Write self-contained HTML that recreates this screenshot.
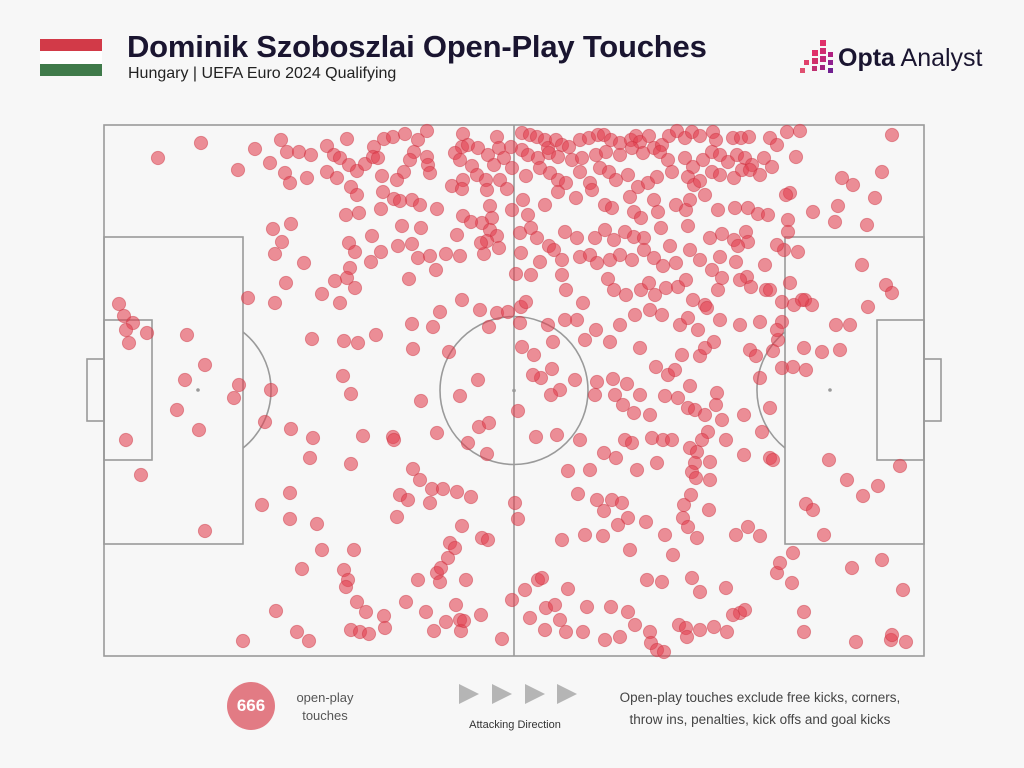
<!DOCTYPE html>
<html><head><meta charset="utf-8">
<style>
body{margin:0;background:#f7f7f7;font-family:"Liberation Sans",sans-serif;}
#wrap{position:relative;width:1024px;height:768px;overflow:hidden;background:#f7f7f7;}
.t{position:absolute;white-space:nowrap;}
</style></head><body>
<div id="wrap">
<div style="position:absolute;left:40px;top:39px;width:62px;height:37px;">
 <div style="height:12px;background:#d23a48"></div><div style="height:13px;background:#fff"></div><div style="height:12px;background:#3f7a4a"></div>
</div>
<div class="t" style="left:127px;top:29px;font-size:31px;font-weight:bold;color:#1a1530;letter-spacing:-0.2px;">Dominik Szoboszlai Open-Play Touches</div>
<div class="t" style="left:128px;top:65px;font-size:16px;color:#222;">Hungary | UEFA Euro 2024 Qualifying</div>
<svg style="position:absolute;left:798px;top:40px" width="38" height="36">
 <rect x="22" y="0" width="6" height="6" fill="#e0306a"/><rect x="22" y="8" width="6" height="6" fill="#d02c70"/><rect x="14" y="10" width="6" height="6" fill="#e0306a"/>
 <rect x="30" y="12" width="5" height="5" fill="#b02080"/><rect x="22" y="16" width="6" height="6" fill="#c02878"/><rect x="14" y="18" width="6" height="6" fill="#d0306a"/>
 <rect x="6" y="20" width="5" height="5" fill="#e0406a"/><rect x="30" y="20" width="5" height="5" fill="#902090"/><rect x="22" y="25" width="5" height="5" fill="#a02080"/>
 <rect x="14" y="26" width="5" height="5" fill="#c03070"/><rect x="2" y="28" width="5" height="5" fill="#e05070"/><rect x="30" y="28" width="5" height="5" fill="#702090"/>
</svg>
<div class="t" style="left:838px;top:44px;font-size:25px;color:#1a1530;"><b>Opta</b> Analyst</div>

<svg id="pitch" style="position:absolute;left:0;top:0" width="1024" height="768"></svg>

<div style="position:absolute;left:227px;top:682px;width:48px;height:48px;border-radius:50%;background:#e27b84;color:#fff;font-weight:bold;font-size:17px;line-height:48px;text-align:center;">666</div>
<div class="t" style="left:285px;top:689px;width:80px;text-align:center;font-size:13px;color:#555;line-height:18px;">open-play<br>touches</div>
<svg style="position:absolute;left:455px;top:682px" width="125" height="24">
 <polygon points="4,2 24,12 4,22" fill="#b5b5b5"/><polygon points="37,2 57,12 37,22" fill="#b5b5b5"/><polygon points="70,2 90,12 70,22" fill="#b5b5b5"/><polygon points="102,2 122,12 102,22" fill="#b5b5b5"/>
</svg>
<div class="t" style="left:445px;top:719px;width:140px;text-align:center;font-size:11px;color:#333;">Attacking Direction</div>
<div class="t" style="left:590px;top:687px;width:340px;text-align:center;font-size:13.5px;color:#444;line-height:22px;">Open-play touches exclude free kicks, corners,<br>throw ins, penalties, kick offs and goal kicks</div>
</div>
<script>
const pitchLength = 82, pitchWidth = 53.1;
const touches = [
[5.4,3.3],[9.7,1.8],[13.4,4.5],[15.1,2.4],[16.6,3.8],[17.7,1.5],[18.3,2.7],[19.5,2.7],[20.7,3.0],[18.1,4.8],[18.6,5.8],[20.3,5.3],[22.3,2.1],[23.0,3.0],[22.3,4.7],[16.9,10.4],[18.7,9.9],[17.8,11.7],[17.1,12.9],[20.0,13.8],[18.2,15.8],[14.4,17.3],[17.1,17.8],[21.8,16.9],[1.5,17.9],[2.0,19.1],[2.9,19.8],[2.2,20.5],[4.3,20.8],[2.5,21.8],[8.3,21.0],[10.1,24.0],[8.1,25.5],[13.5,26.0],[13.0,27.3],[7.3,28.5],[16.7,26.5],[16.1,29.7],[9.5,30.5],[2.2,31.5],[18.7,30.4],[20.9,31.3],[20.6,33.3],[3.7,35.0],[18.6,36.8],[15.8,38.0],[18.6,39.4],[10.1,40.6],[21.3,39.9],[21.8,42.5],[19.8,44.4],[17.2,48.6],[13.9,51.6],[19.3,50.7],[20.5,51.6],
[24.3,1.4],[23.6,3.3],[24.5,4.0],[25.3,4.6],[26.1,3.9],[27.0,2.2],[26.9,3.2],[28.0,1.4],[28.9,1.2],[30.1,0.9],[31.4,1.5],[32.3,0.6],[31.0,2.7],[30.6,3.5],[32.3,3.2],[32.4,4.0],[32.6,4.8],[30.0,4.7],[29.3,5.5],[27.4,3.3],[27.8,5.1],[23.3,5.3],[24.7,6.2],[25.3,7.0],[27.9,6.7],[29.0,7.4],[30.8,7.5],[31.6,8.0],[33.3,8.4],[34.8,6.1],[35.9,5.5],[35.8,6.4],[35.9,0.9],[35.8,2.2],[36.4,2.0],[35.1,2.8],[37.4,2.3],[38.4,3.0],[36.8,4.1],[35.6,3.5],[37.3,5.0],[39.3,1.2],[39.5,2.3],[40.0,3.3],[40.7,2.2],[39.0,4.0],[38.2,5.5],[39.6,5.5],[40.3,6.4],[38.6,8.1],[38.8,9.3],[37.8,9.8],[38.6,10.5],[39.3,11.1],[38.3,11.6],[38.0,12.9],[39.5,12.3],[35.9,9.1],[36.7,9.7],[35.3,11.0],[37.7,11.8],[38.3,6.5],[40.8,4.3],
[24.2,9.0],[25.5,8.8],[26.8,11.1],[27.7,8.4],[29.6,7.6],[29.8,10.1],[29.4,12.1],[30.8,11.9],[31.7,10.3],[27.7,12.7],[26.7,13.7],[24.5,11.8],[25.1,12.7],[24.6,14.3],[24.3,15.3],[25.1,16.3],[23.1,15.6],[23.6,17.8],[20.8,21.4],[24.0,21.6],[25.4,21.8],[27.2,21.0],[30.5,15.4],[31.4,13.3],[32.6,13.1],[33.2,14.5],[34.2,12.9],[35.6,13.1],[33.6,18.7],[35.8,17.5],[30.8,19.9],[32.9,20.2],[30.9,22.4],[37.6,18.5],[39.3,18.8],[38.5,20.2],[34.5,22.7],[37.4,25.5],[31.7,27.6],[35.6,27.1],[37.5,30.2],[38.5,29.8],[33.3,30.8],[36.4,31.8],[38.3,32.9],[23.9,25.1],[24.7,26.9],[25.9,31.1],[28.9,31.2],[29.0,31.5],[24.7,33.9],[30.9,34.4],[31.6,35.5],[32.8,36.4],[33.9,36.4],[35.3,36.7],[36.7,37.2],[29.6,37.0],[30.4,37.5],[32.6,37.8],[29.3,39.2],[35.8,40.1],[41.1,37.8],[41.4,39.4],[34.6,41.8],[35.1,42.3],[34.4,43.3],[33.3,44.8],[36.2,45.5],[37.8,41.3],[38.4,41.5],[25.0,42.5],[24.0,44.5],[24.4,45.5],[24.2,46.2],[31.4,45.5],[30.2,47.7],[32.2,48.7],[25.3,47.7],[28.0,49.1],[26.2,48.7],[28.1,50.3],[24.7,50.5],[25.6,50.7],[26.5,50.9],[33.0,50.6],[34.2,49.7],[35.2,48.0],[35.6,49.5],[35.7,50.6],[36.0,49.6],[37.7,49.0],[39.8,51.4],[40.8,47.5],[33.6,45.7],[33.7,44.3],
[41.8,0.8],[42.6,1.0],[43.3,1.2],[44.1,1.5],[44.4,2.3],[45.2,1.5],[45.8,2.0],[46.5,2.2],[47.6,1.5],[48.5,1.3],[49.4,1.0],[50.0,1.0],[50.7,1.5],[51.6,1.8],[52.7,1.5],[53.2,1.1],[53.6,1.7],[54.5,1.1],[55.0,2.3],[55.8,2.0],[56.5,1.1],[57.3,0.6],[58.1,1.3],[58.8,0.7],[59.6,1.1],[60.9,0.7],[61.2,1.5],[62.9,1.3],[63.7,1.3],[64.5,1.2],[66.6,1.3],[68.3,0.7],[69.6,0.6],
[41.8,2.5],[42.4,3.0],[43.4,3.3],[44.5,2.8],[45.4,3.2],[46.8,3.5],[47.8,3.3],[49.2,3.0],[50.2,2.7],[51.6,3.0],[52.8,2.3],[53.9,2.8],[55.6,2.7],[56.4,3.5],[58.1,3.3],[58.9,4.2],[59.9,3.5],[60.8,2.7],[61.6,3.0],[62.4,3.7],[63.3,3.0],[64.1,3.3],[64.8,4.0],[66.0,3.3],[67.3,2.0],[69.2,3.2],
[42.2,5.1],[43.6,4.3],[44.6,4.8],[45.4,5.5],[46.2,5.8],[47.6,4.7],[48.6,5.8],[49.6,4.3],[50.5,4.7],[51.2,5.5],[52.4,5.0],[53.4,6.2],[54.4,5.8],[55.3,5.2],[56.8,4.7],[58.4,5.2],[59.0,6.0],[59.6,5.6],[60.8,4.7],[61.6,5.0],[63.0,5.3],[63.8,4.5],[64.6,4.5],[65.6,5.0],[66.8,4.2],[68.6,6.8],[68.2,7.0],[73.8,5.3],
[40.8,8.5],[41.9,7.5],[42.4,9.0],[44.1,8.0],[45.4,6.7],[47.2,7.3],[48.8,6.5],[50.1,8.0],[50.8,8.3],[52.6,7.2],[53.0,8.7],[53.7,9.3],[55.0,7.5],[55.4,8.7],[57.2,8.0],[58.2,8.5],[58.6,7.5],[60.1,7.0],[61.4,8.5],[63.1,8.3],[64.4,8.3],[65.4,8.9],[66.4,9.0],[68.4,9.5],[70.9,8.7],[73.4,8.1],[74.9,6.0],[77.1,7.3],[77.8,4.7],[78.8,1.0],[76.3,10.0],
[41.6,10.8],[42.7,10.3],[43.3,11.3],[44.5,12.1],[46.1,10.7],[47.3,11.3],[49.1,11.3],[50.1,10.5],[51.0,11.5],[52.1,10.7],[53.0,11.2],[54.0,11.3],[55.7,10.3],[56.6,12.1],[58.4,10.1],[60.6,11.3],[61.8,10.9],[63.0,11.5],[64.2,10.7],[64.4,11.7],[63.4,12.1],[61.6,13.2],
[41.7,12.8],[41.2,14.9],[42.7,15.0],[43.6,13.7],[45.0,12.5],[45.8,13.5],[47.6,13.2],[48.6,13.0],[49.3,13.8],[50.6,13.5],[51.6,13.0],[52.8,13.5],[54.0,12.5],[55.0,13.3],[55.9,14.1],[57.2,13.8],[58.6,12.5],[59.6,13.5],[60.8,14.5],[61.8,15.3],[63.2,13.7],[64.3,15.2],[66.1,14.0],[68.0,12.5],[69.4,12.7],[66.2,16.5],
[40.4,18.7],[41.7,18.2],[42.2,17.7],[45.8,15.0],[46.2,16.5],[47.3,19.5],[47.9,17.8],[50.4,15.4],[51.0,16.5],[52.2,17.0],[53.7,16.5],[54.5,15.8],[55.1,17.0],[56.2,16.3],[57.4,16.2],[58.2,15.5],[58.9,17.5],[60.1,18.0],[61.4,16.5],[63.6,15.5],[64.7,16.2],[66.6,16.5],[67.8,17.7],[68.6,15.8],[70.1,17.5],[70.8,18.0],[67.8,19.7],[67.4,21.5],[69.0,18.0],
[41.6,19.8],[44.4,20.0],[44.9,21.7],[46.1,19.5],[48.1,21.5],[49.2,20.5],[50.6,21.7],[51.6,20.0],[53.1,19.0],[54.6,18.5],[55.8,19.0],[57.6,20.0],[58.4,19.3],[59.4,20.5],[60.3,18.3],[61.6,19.5],[63.6,20.0],[65.6,19.7],[67.3,20.5],
[41.8,22.2],[43.0,23.0],[43.7,25.3],[44.8,24.4],[45.6,26.5],[47.1,25.5],[49.3,25.7],[50.9,25.4],[52.3,25.9],[53.6,22.3],[55.2,24.2],[56.4,25.0],[57.1,24.5],[57.8,23.0],[58.6,26.1],[59.6,23.1],[60.1,22.3],[61.0,21.7],[61.3,26.8],[64.6,22.5],[65.2,23.1],[66.9,22.6],[67.8,24.3],[68.9,24.2],[65.6,25.3],
[41.4,28.6],[42.9,25.0],[44.7,27.0],[49.1,27.0],[51.1,27.0],[51.9,28.0],[53.0,28.8],[53.6,27.0],[54.6,29.0],[56.1,27.1],[57.4,27.3],[58.4,28.3],[59.1,28.5],[60.1,29.0],[61.2,28.0],[60.4,30.7],[61.8,29.5],[64.0,29.0],[66.6,28.3],[65.8,30.7],
[43.2,31.2],[45.3,31.0],[47.6,31.5],[50.0,32.8],[51.2,33.3],[52.1,31.5],[52.8,31.8],[54.8,31.3],[55.9,31.5],[56.8,31.5],[58.6,32.3],[59.3,32.7],[59.1,33.8],[59.8,31.5],[62.2,31.5],[64.0,33.0],[66.6,33.3],[60.6,33.7],
[46.4,34.6],[48.6,34.5],[53.3,34.5],[55.3,33.8],[58.8,34.7],[59.2,35.3],[60.6,35.5],
[47.4,36.9],[49.3,37.5],[50.0,38.6],[50.8,37.5],[51.8,37.8],[52.4,39.3],[51.4,40.0],[54.2,39.7],[58.0,38.0],[58.7,37.0],[57.9,39.3],[60.5,38.5],[58.4,40.2],[56.1,41.0],[59.3,41.3],[63.2,41.0],[64.4,40.2],[65.6,41.1],
[45.8,41.5],[48.1,41.0],[49.9,41.1],[52.6,42.5],[56.9,43.0],
[43.4,45.5],[43.8,45.3],[42.1,46.5],[46.4,46.4],[48.3,48.2],[50.7,48.2],[52.4,48.7],[54.3,45.5],[55.8,45.7],[58.8,45.3],[59.6,46.7],[62.2,46.3],[63.6,48.8],[64.1,48.5],
[44.2,48.3],[45.1,48.0],[42.6,49.3],[44.1,50.5],[45.6,49.5],[46.2,50.7],[47.9,50.7],[50.1,51.5],[51.6,51.2],[53.1,50.0],[54.6,50.7],[54.7,51.8],[55.3,52.5],[56.0,52.7],[57.5,50.0],[58.2,50.3],[58.3,51.2],[59.6,50.5],[61.0,50.2],[62.9,49.0],[62.3,50.7],
[70.0,22.3],[71.8,22.7],[73.2,20.0],[74.6,20.0],[73.6,22.5],[70.2,24.5],[69.8,17.5],[75.8,14.0],[78.2,16.0],[78.8,16.8],[76.4,18.2],[79.6,34.1],[72.5,33.5],[74.3,35.5],[75.9,37.1],[77.4,36.1],[70.2,37.9],[70.9,38.5],[72.0,41.0],[68.9,42.8],[67.3,44.8],[67.6,43.8],[68.8,45.8],[74.8,44.3],[77.8,43.5],[79.9,46.5],[70.0,48.7],[70.0,50.7],[75.2,51.7],[78.7,51.5],[78.8,51.0],[80.2,51.7],[66.9,33.5],[67.3,12.0],[68.4,10.7],[73.1,9.7]
];
const X0=104,X1=924,Y0=125,Y1=656;
const sx=v=>X0+(v/pitchLength)*(X1-X0);
const sy=v=>Y0+(v/pitchWidth)*(Y1-Y0);
const NS="http://www.w3.org/2000/svg";
const svg=document.getElementById('pitch');
function mk(tag,attrs,name){const e=document.createElementNS(NS,tag);for(const k in attrs)e.setAttribute(k,attrs[k]);


svg.appendChild(e);return e;}
const L={fill:'none',stroke:'#9a9a9a','stroke-width':1.6};
mk('rect',Object.assign({x:X0,y:Y0,width:X1-X0,height:Y1-Y0},L),'pitch-outline');
mk('line',Object.assign({x1:sx(41),y1:Y0,x2:sx(41),y2:Y1},L),'halfway-line');
mk('circle',Object.assign({cx:sx(41),cy:sy(26.55),r:74},L),'centre-circle');
mk('circle',{cx:sx(41),cy:sy(26.55),r:1.8,fill:'#9a9a9a'},'centre-spot');
mk('rect',Object.assign({x:X0,y:237,width:139,height:307},L),'left-penalty-box');
mk('rect',Object.assign({x:X0,y:320,width:48,height:140},L),'left-six-yard-box');
mk('rect',Object.assign({x:87,y:359,width:17,height:62},L),'left-goal');
mk('rect',Object.assign({x:785,y:237,width:139,height:307},L),'right-penalty-box');
mk('rect',Object.assign({x:877,y:320,width:47,height:140},L),'right-six-yard-box');
mk('rect',Object.assign({x:924,y:359,width:17,height:62},L),'right-goal');
mk('circle',{cx:198,cy:390,r:1.8,fill:'#9a9a9a'},'left-penalty-spot');
mk('circle',{cx:830,cy:390,r:1.8,fill:'#9a9a9a'},'right-penalty-spot');
mk('path',Object.assign({d:'M243,332 A74,74 0 0 1 243,448'},L),'left-penalty-arc');
mk('path',Object.assign({d:'M785,332 A74,74 0 0 0 785,448'},L),'right-penalty-arc');
touches.forEach(p=>{
 const c=document.createElementNS(NS,'circle');
 c.setAttribute('cx',sx(p[0]));c.setAttribute('cy',sy(p[1]));c.setAttribute('r',6.6);
 c.setAttribute('fill','rgba(226,64,80,0.58)');c.setAttribute('stroke','rgba(205,50,65,0.45)');c.setAttribute('stroke-width','1');
 
 
 svg.appendChild(c);
});
</script>
</body></html>
